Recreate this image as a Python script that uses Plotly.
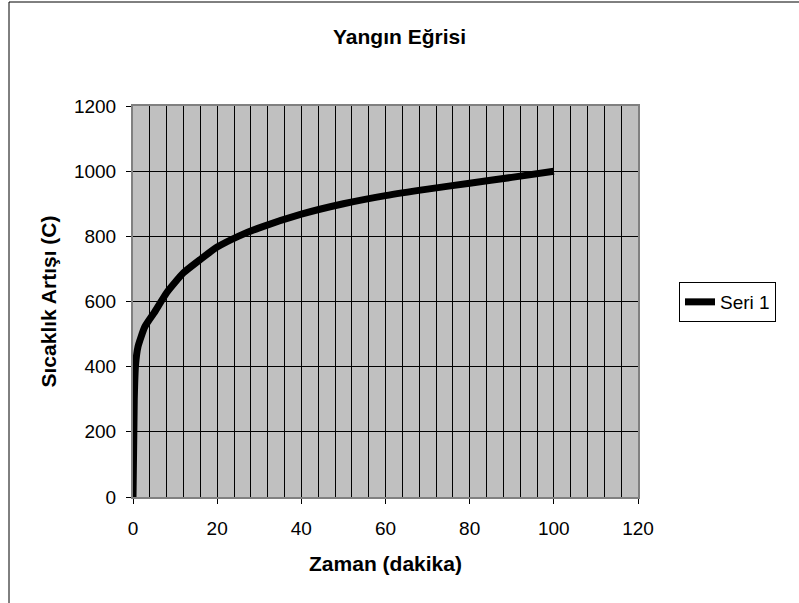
import plotly.graph_objects as go

# Data
zaman = [0, 0.3, 0.6, 1.2, 2.8, 5, 8, 12, 16, 20, 25, 30, 40, 50, 60, 70, 80, 90, 100]
sicaklik = [0, 300, 405, 462, 522, 565, 627, 688, 729, 767, 800, 826, 868, 900, 925, 945, 963, 981, 1000]

x_ticks = [0, 20, 40, 60, 80, 100, 120]
y_ticks = [0, 200, 400, 600, 800, 1000, 1200]

FONT = "Liberation Sans, Arial, sans-serif"

L, R, T, B = 133, 638, 106, 497
W, H = 799, 603
pw, ph = R - L, B - T

def px(xp):
    return (xp - L) / pw

def py(yp):
    return (B - yp) / ph

fig = go.Figure()
fig.add_trace(go.Scatter(
    x=zaman, y=sicaklik, mode="lines", name="Seri 1",
    line=dict(color="black", width=7, shape="spline", smoothing=0.5),
))

fig.update_layout(
    width=W, height=H,
    margin=dict(l=L, r=W - R, t=T, b=H - B, autoexpand=False),
    paper_bgcolor="white",
    plot_bgcolor="#C0C0C0",
    font=dict(family=FONT, color="black", size=19),
    title=dict(text="<b>Yangın Eğrisi</b>", x=0.5, xref="container",
               y=1 - 37 / H, yref="container", yanchor="middle", xanchor="center",
               font=dict(size=21, family=FONT)),
    showlegend=True,
    legend=dict(x=px(679), y=py(282), xanchor="left", yanchor="top",
                bordercolor="black", borderwidth=1, bgcolor="white",
                font=dict(size=19, family=FONT), itemwidth=30,
                tracegroupgap=0),
    xaxis=dict(
        range=[0, 120], tickvals=x_ticks, ticktext=[str(v) for v in x_ticks],
        ticks="outside", ticklen=5, tickcolor="black", ticklabelstandoff=8,
        tickfont=dict(size=19),
        showgrid=True, gridcolor="black", gridwidth=1,
        minor=dict(dtick=4, tick0=0, showgrid=True, gridcolor="black", gridwidth=1, ticks=""),
        showline=True, linecolor="#808080", linewidth=2, mirror=True,
        zeroline=False, fixedrange=True,
        title=dict(text="<b>Zaman (dakika)</b>", font=dict(size=21, family=FONT), standoff=19),
    ),
    yaxis=dict(
        range=[0, 1200], tickvals=y_ticks, ticktext=[str(v) for v in y_ticks],
        ticks="outside", ticklen=5, tickcolor="black", ticklabelstandoff=6,
        tickfont=dict(size=19),
        showgrid=True, gridcolor="black", gridwidth=1,
        showline=True, linecolor="#808080", linewidth=2, mirror=True,
        zeroline=False, fixedrange=True,
        title=dict(text="<b>Sıcaklık Artışı (C)</b>", font=dict(size=21, family=FONT), standoff=12),
    ),
    shapes=[
        dict(type="rect", xref="paper", yref="paper",
             x0=px(9), x1=px(810), y0=py(615), y1=py(2),
             line=dict(color="black", width=1), fillcolor="rgba(0,0,0,0)", layer="below"),
    ],
)

fig.write_html(
    "out.html",
    config={"displayModeBar": False},
    post_script="document.body.style.margin='0';document.body.style.overflow='hidden';",
)
